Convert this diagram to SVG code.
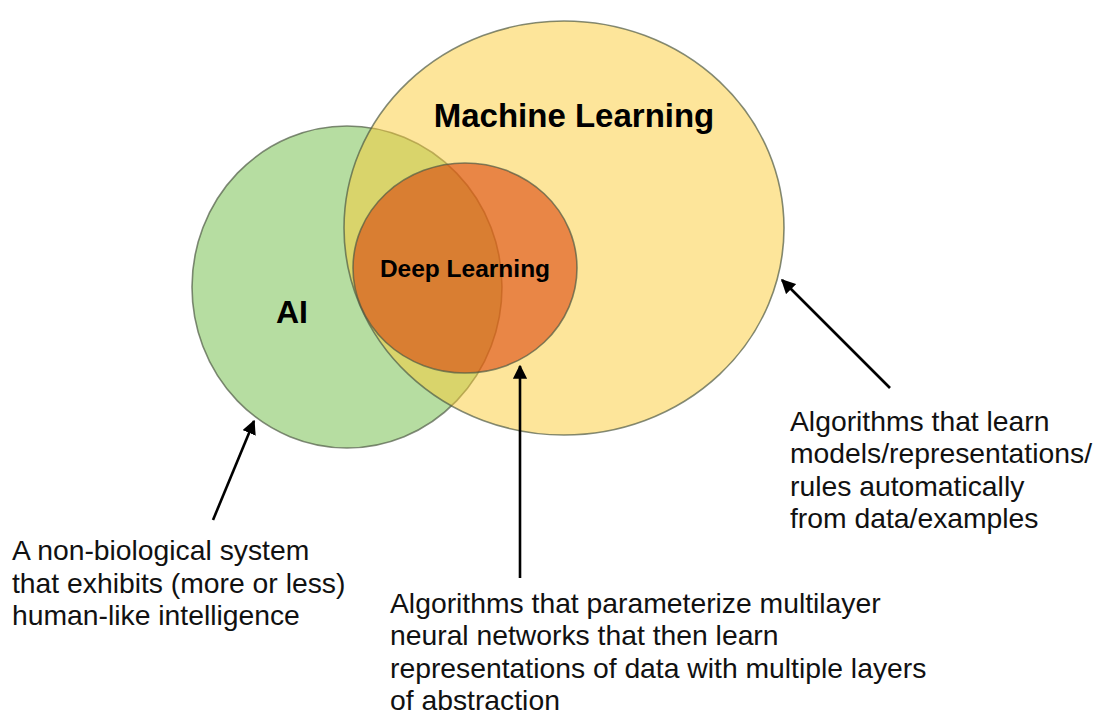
<svg xmlns="http://www.w3.org/2000/svg" width="1097" height="717" viewBox="0 0 1097 717">
<defs>
<style>
.lbl{font-family:"Liberation Sans",Arial,sans-serif;font-size:28.3px;fill:#111}
.bold{font-family:"Liberation Sans",Arial,sans-serif;font-weight:bold;fill:#000}
.ring{stroke:#4f5a44;stroke-width:1.6;stroke-opacity:0.7}
.arr{stroke:#000;stroke-width:2.6;fill:none;marker-end:url(#ah)}
</style>
<marker id="ah" viewBox="0 0 10 10" refX="9" refY="5" markerWidth="5.5" markerHeight="5.5" orient="auto" markerUnits="strokeWidth">
<path d="M0,0 L10,5 L0,10 z" fill="#000"/>
</marker>
</defs>
<rect width="1097" height="717" fill="#fff"/>
<g id="ai">
<ellipse class="ring" cx="347" cy="287" rx="155" ry="161" fill="#B6DDA1"/>
</g>
<g id="ml">
<ellipse class="ring" cx="564" cy="228" rx="220" ry="207" fill="#FBCB35" fill-opacity="0.5"/>
</g>
<g id="dl">
<ellipse class="ring" cx="465" cy="268" rx="112" ry="105" fill="#DA3A05" fill-opacity="0.56"/>
</g>
<g id="labels">
<text class="bold" x="574" y="127" font-size="33" text-anchor="middle">Machine Learning</text>
<text class="bold" x="465" y="277" font-size="24.5" text-anchor="middle">Deep Learning</text>
<text class="bold" x="292" y="323" font-size="32" text-anchor="middle">AI</text>
</g>
<g id="connectors">
<line class="arr" x1="213" y1="520" x2="254" y2="421"/>
<line class="arr" x1="520" y1="578" x2="520" y2="366"/>
<line class="arr" x1="890" y1="388" x2="782" y2="280"/>
</g>
<g id="note-ai">
<text class="lbl" x="12"><tspan x="12" y="560">A non-biological system</tspan><tspan x="12" y="593">that exhibits (more or less)</tspan><tspan x="12" y="625">human-like intelligence</tspan></text>
</g>
<g id="note-dl">
<text class="lbl" x="390"><tspan x="390" y="613">Algorithms that parameterize multilayer</tspan><tspan x="390" y="645">neural networks that then learn</tspan><tspan x="390" y="678">representations of data with multiple layers</tspan><tspan x="390" y="710">of abstraction</tspan></text>
</g>
<g id="note-ml">
<text class="lbl" x="790"><tspan x="790" y="431">Algorithms that learn</tspan><tspan x="790" y="463">models/representations/</tspan><tspan x="790" y="496">rules automatically</tspan><tspan x="790" y="528">from data/examples</tspan></text>
</g>
</svg>
